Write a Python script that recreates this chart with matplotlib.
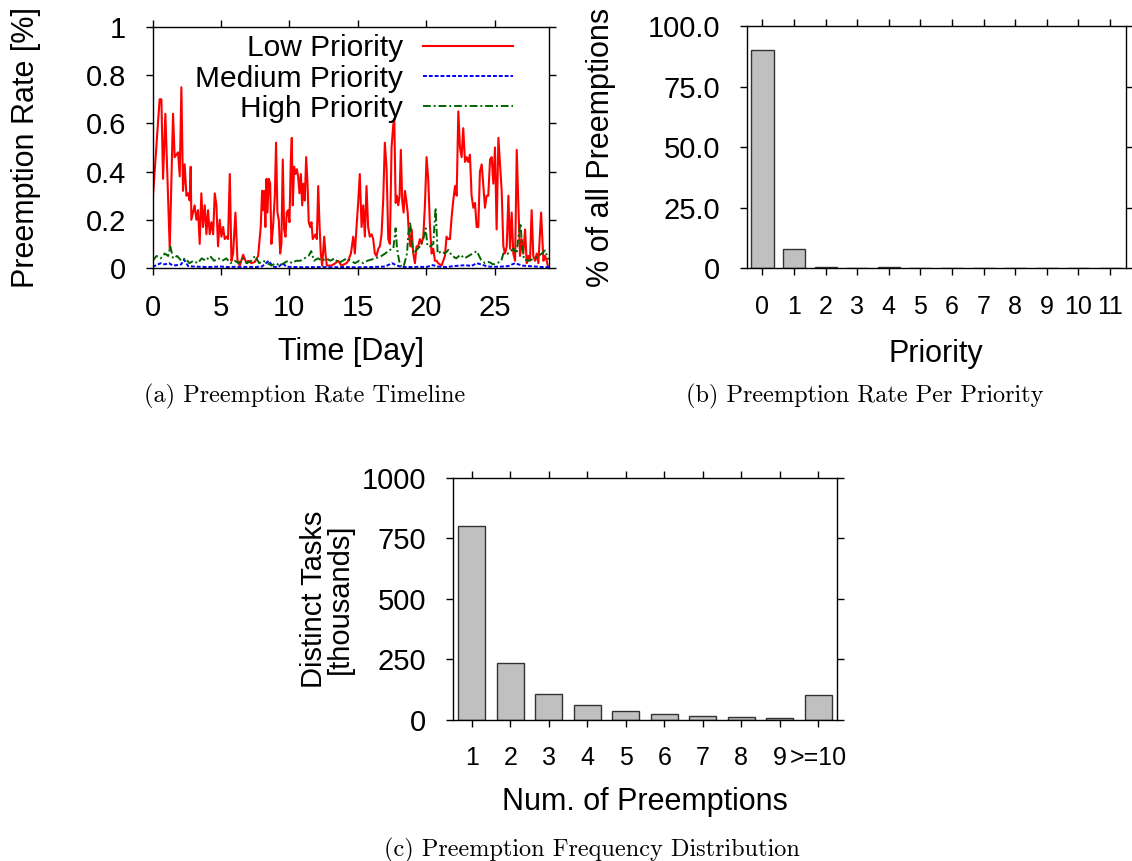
import numpy as np
import matplotlib
matplotlib.use("Agg")
import matplotlib.pyplot as plt

plt.rcParams['font.family'] = ['Liberation Sans', 'DejaVu Sans']

#%% timeline data (day, preemption rate in %)
low_day = [0.0, 0.52, 0.65, 0.77, 0.94, 1.26, 1.50, 1.62, 1.87, 1.99, 2.11, 2.23, 2.35, 2.48,
           2.60, 2.72, 2.79, 2.84, 3.08, 3.21, 3.33, 3.45, 3.57, 3.69, 3.82, 3.94, 4.06, 4.18,
           4.30, 4.43, 4.55, 4.67, 4.79, 4.91, 5.04, 5.16, 5.28, 5.40, 5.52, 5.65, 5.77, 5.89,
           6.06, 6.21, 6.38, 6.62, 6.87, 6.99, 7.23, 7.47, 7.72, 7.91, 8.01, 8.08, 8.16, 8.25,
           8.33, 8.40, 8.50, 8.60, 8.69, 8.81, 8.94, 9.03, 9.13, 9.23, 9.33, 9.42, 9.52, 9.62,
           9.72, 9.81, 9.91, 10.01, 10.11, 10.18, 10.25, 10.35, 10.45, 10.55, 10.64, 10.74,
           10.84, 10.94, 11.03, 11.13, 11.23, 11.33, 11.42, 11.52, 11.62, 11.71, 11.81, 11.91,
           12.01, 12.11, 12.20, 12.30, 12.40, 12.55, 12.64, 12.74, 13.08, 13.37, 13.57, 13.81,
           14.18, 14.30, 14.50, 14.67, 14.79, 14.91, 15.03, 15.15, 15.28, 15.40, 15.52, 15.64,
           15.76, 15.88, 16.01, 16.13, 16.25, 16.37, 16.50, 16.62, 16.74, 16.86, 16.98, 17.11,
           17.23, 17.35, 17.47, 17.59, 17.67, 17.77, 17.86, 17.96, 18.06, 18.15, 18.25, 18.35,
           18.45, 18.55, 18.65, 18.74, 18.84, 18.94, 19.06, 19.18, 19.30, 19.42, 19.54, 19.67,
           19.79, 19.91, 20.03, 20.15, 20.28, 20.40, 20.52, 20.64, 20.76, 20.88, 21.13, 21.37,
           21.49, 21.62, 21.74, 21.86, 21.98, 22.11, 22.23, 22.35, 22.47, 22.59, 22.71, 22.84,
           22.96, 23.08, 23.20, 23.32, 23.45, 23.57, 23.69, 23.81, 23.93, 24.06, 24.18, 24.30,
           24.42, 24.54, 24.67, 24.79, 24.91, 25.03, 25.15, 25.28, 25.40, 25.52, 25.64, 25.76,
           25.89, 26.01, 26.13, 26.25, 26.37, 26.50, 26.62, 26.74, 26.86, 26.98, 27.10, 27.23,
           27.35, 27.47, 27.59, 27.71, 27.83, 27.96, 28.08, 28.20, 28.40, 28.57, 28.69, 28.81,
           28.93]
low_rate = [0.27, 0.70, 0.70, 0.37, 0.64, 0.08, 0.64, 0.46, 0.48, 0.38, 0.75, 0.32, 0.43, 0.30,
            0.31, 0.28, 0.42, 0.20, 0.26, 0.20, 0.24, 0.10, 0.31, 0.17, 0.26, 0.14, 0.24, 0.14,
            0.19, 0.14, 0.31, 0.26, 0.09, 0.20, 0.13, 0.17, 0.12, 0.13, 0.12, 0.39, 0.03, 0.06,
            0.23, 0.03, 0.01, 0.055, 0.02, 0.03, 0.02, 0.025, 0.05, 0.17, 0.32, 0.24, 0.32, 0.17,
            0.37, 0.23, 0.37, 0.35, 0.10, 0.17, 0.30, 0.52, 0.23, 0.20, 0.06, 0.10, 0.45, 0.16,
            0.13, 0.23, 0.24, 0.19, 0.45, 0.54, 0.26, 0.42, 0.39, 0.41, 0.38, 0.31,
            0.39, 0.26, 0.35, 0.28, 0.46, 0.35, 0.19, 0.17, 0.19, 0.12, 0.13, 0.14,
            0.12, 0.34, 0.19, 0.06, 0.01, 0.13, 0.06, 0.01, 0.01, 0.02, 0.03, 0.01,
            0.02, 0.03, 0.06, 0.13, 0.06, 0.17, 0.27, 0.39, 0.17, 0.26, 0.13, 0.34,
            0.17, 0.13, 0.14, 0.12, 0.06, 0.05, 0.08, 0.09, 0.14, 0.28, 0.52, 0.41,
            0.12, 0.10, 0.50, 0.59, 0.62, 0.27, 0.30, 0.26, 0.30, 0.49, 0.28, 0.23,
            0.32, 0.28, 0.23, 0.14, 0.09, 0.16, 0.06, 0.02, 0.09, 0.09, 0.12, 0.10,
            0.13, 0.26, 0.46, 0.37, 0.17, 0.06, 0.08, 0.03, 0.03, 0.02, 0.01, 0.05,
            0.13, 0.12, 0.12, 0.21, 0.28, 0.34, 0.30, 0.65, 0.50, 0.46, 0.58, 0.44,
            0.46, 0.44, 0.47, 0.30, 0.25, 0.27, 0.17, 0.17, 0.40, 0.43, 0.34, 0.25,
            0.30, 0.30, 0.45, 0.46, 0.35, 0.50, 0.16, 0.54, 0.43, 0.32, 0.09, 0.06,
            0.09, 0.30, 0.08, 0.23, 0.06, 0.03, 0.49, 0.26, 0.05, 0.12, 0.06, 0.16,
            0.02, 0.05, 0.03, 0.24, 0.05, 0.03, 0.06, 0.02, 0.23, 0.03, 0.05, 0.03,
            0.0]

med_day = [0.0, 0.3, 0.6, 0.9, 1.2, 1.5, 1.8, 2.1, 2.3, 2.6, 3.0, 3.5, 4.0, 4.5, 5.0, 5.5,
           6.0, 6.5, 7.0, 7.5, 8.0, 8.5, 8.8, 9.2, 9.5, 9.8, 10.5, 11.0, 12.0, 13.0, 14.0,
           15.0, 16.0, 17.0, 17.5, 17.8, 18.2, 19.0, 19.5, 20.0, 20.5, 20.8, 21.5, 22.0,
           22.5, 22.9, 23.3, 23.7, 24.0, 24.5, 25.0, 25.5, 26.0, 26.5, 27.0, 27.5, 28.0,
           28.5, 29.0]
med_rate = [0.005, 0.012, 0.02, 0.015, 0.02, 0.01, 0.012, 0.015, 0.035, 0.008, 0.006, 0.005,
            0.004, 0.005, 0.006, 0.004, 0.005, 0.004, 0.005, 0.004, 0.006, 0.03, 0.005,
            0.004, 0.02, 0.005, 0.004, 0.003, 0.004, 0.003, 0.004, 0.003, 0.004, 0.006,
            0.02, 0.012, 0.004, 0.004, 0.005, 0.004, 0.012, 0.006, 0.004, 0.008, 0.01,
            0.012, 0.008, 0.02, 0.015, 0.006, 0.005, 0.006, 0.008, 0.02, 0.01, 0.008,
            0.006, 0.004, 0.004]

high_day = [0.0, 0.3, 0.6, 0.9, 1.15, 1.3, 1.5, 1.8, 2.1, 2.4,
            2.7, 3.0, 3.3, 3.6, 3.9, 4.2, 4.5, 4.8, 5.1, 5.4,
            5.7, 6.0, 6.3, 6.6, 6.9, 7.2, 7.5, 7.8, 8.1, 8.4,
            8.7, 9.0, 9.3, 9.6, 9.9, 10.2, 10.5, 10.8, 11.1, 11.4,
            11.6, 11.8, 12.1, 12.4, 12.7, 13.0, 13.3, 13.6, 13.9, 14.2,
            14.5, 14.8, 15.1, 15.4, 15.7, 16.0, 16.3, 16.74, 17.0, 17.35,
            17.6, 17.77, 17.86, 17.96, 18.1, 18.35, 18.6, 18.7, 18.84, 18.94,
            19.06, 19.3, 19.55, 19.79, 19.96, 20.1, 20.28, 20.52, 20.69, 20.84,
            21.13, 21.37, 21.62, 21.9, 22.2, 22.5, 22.8, 23.1, 23.4, 23.7,
            24.0, 24.3, 24.6, 24.9, 25.2, 25.5, 25.64, 26.0, 26.37, 26.62,
            26.74, 26.9, 27.0, 27.15, 27.47, 27.96, 28.2, 28.45, 28.69, 28.93]
high_rate = [0.03, 0.05, 0.04, 0.06, 0.05, 0.09, 0.04, 0.05, 0.03, 0.04,
             0.02, 0.03, 0.02, 0.04, 0.03, 0.05, 0.03, 0.04, 0.03, 0.04,
             0.02, 0.03, 0.02, 0.04, 0.02, 0.03, 0.05, 0.02, 0.03, 0.02,
             0.01, 0.02, 0.01, 0.02, 0.03, 0.02, 0.03, 0.03, 0.04, 0.05,
             0.07, 0.03, 0.04, 0.03, 0.04, 0.03, 0.04, 0.02, 0.03, 0.04,
             0.03, 0.02, 0.03, 0.02, 0.03, 0.035, 0.04, 0.05, 0.06, 0.075,
             0.08, 0.165, 0.09, 0.05, 0.01, 0.005, 0.06, 0.145, 0.19, 0.11,
             0.06, 0.075, 0.09, 0.12, 0.165, 0.09, 0.09, 0.10, 0.25, 0.06,
             0.07, 0.06, 0.075, 0.05, 0.04, 0.055, 0.04, 0.05, 0.06, 0.07,
             0.035, 0.02, 0.025, 0.015, 0.02, 0.03, 0.06, 0.06, 0.08, 0.06,
             0.13, 0.186, 0.09, 0.035, 0.03, 0.04, 0.05, 0.06, 0.073, 0.035]

#%% share of all preemptions per priority [%]
priorities = list(range(12))
prio_share = [90.0, 7.8, 0.7, 0.1, 0.5, 0.05, 0.05, 0.05, 0.15, 0.25, 0.05, 0.05]

#%% distinct tasks (thousands) by number of preemptions
preempt_labels = ['1', '2', '3', '4', '5', '6', '7', '8', '9', '>=10']
task_counts = [802, 234, 109, 60, 37, 23, 16, 11, 9.5, 104]

#%%
W, H = 1132, 861
FS = 21       # tick labels
LFS = 22      # axis labels
fig = plt.figure(figsize=(W / 100, H / 100), dpi=100)


def px_axes(left, right, top, bottom):
    return fig.add_axes([left / W, 1 - bottom / H, (right - left) / W, (bottom - top) / H])


def style(ax, xsize=FS):
    for s in ax.spines.values():
        s.set_linewidth(1.0)
    ax.tick_params(direction='out', length=5, width=1, top=True, right=True,
                   labelsize=FS, labeltop=False, labelright=False, pad=14)
    ax.tick_params(axis='x', labelsize=xsize)


# (a) timeline
ax1 = px_axes(152.5, 549.3, 27, 268)
ax1.plot(low_day, low_rate, color='red', lw=1.5, label='Low Priority')
ax1.plot(med_day, med_rate, color='blue', lw=1.4, linestyle=(0, (2, 1)), label='Medium Priority')
ax1.plot(high_day, high_rate, color='darkgreen', lw=1.4, linestyle=(0, (4, 1.5, 1, 1.5)),
         label='High Priority')
ax1.set_xlim(0, 29)
ax1.set_ylim(0, 1)
ax1.set_xticks([0, 5, 10, 15, 20, 25])
ax1.set_yticks([0, 0.2, 0.4, 0.6, 0.8, 1])
ax1.set_yticklabels(['0', '0.2', '0.4', '0.6', '0.8', '1'])
style(ax1)
ax1.set_xlabel('Time [Day]', fontsize=LFS, va='center')
ax1.xaxis.set_label_coords(0.5, -0.348)
ax1.set_ylabel('Preemption Rate [%]', fontsize=LFS, va='center')
ax1.yaxis.set_label_coords(-0.319, 0.5)
ax1.legend(loc='upper right', bbox_to_anchor=((513 - 152.5) / 396.8, 0.969), frameon=False,
           fontsize=21.5, markerfirst=False, handlelength=3.0, handletextpad=0.68,
           labelspacing=0.07, borderpad=0, borderaxespad=0)

# (b) per priority
ax2 = px_axes(746.7, 1125.7, 26, 268.3)
ax2.bar(priorities, prio_share, width=0.7, color='#c0c0c0', edgecolor='#333333', lw=1)
ax2.set_xlim(-0.5, 11.5)
ax2.set_ylim(0, 100)
ax2.set_xticks(priorities)
ax2.set_xticklabels([str(p) for p in priorities])
ax2.set_yticks([0, 25, 50, 75, 100])
ax2.set_yticklabels(['0', '25.0', '50.0', '75.0', '100.0'])
style(ax2, xsize=18)
ax2.set_xlabel('Priority', fontsize=LFS, va='center')
ax2.xaxis.set_label_coords(0.5, -0.354)
ax2.set_ylabel('% of all Preemptions', fontsize=LFS, va='center')
ax2.yaxis.set_label_coords(-0.384, 0.5)

# (c) frequency distribution
ax3 = px_axes(452.7, 837.3, 477.7, 720)
pos = np.arange(1, len(task_counts) + 1)
ax3.bar(pos, task_counts, width=0.7, color='#c0c0c0', edgecolor='#333333', lw=1)
ax3.set_xlim(0.5, 10.5)
ax3.set_ylim(0, 1000)
ax3.set_xticks(pos)
ax3.set_xticklabels(preempt_labels)
ax3.set_yticks([0, 250, 500, 750, 1000])
style(ax3, xsize=18)
ax3.set_xlabel('Num. of Preemptions', fontsize=LFS, va='center')
ax3.xaxis.set_label_coords(0.5, -0.339)
ax3.set_ylabel('Distinct Tasks\n[thousands]', fontsize=21, va='center', linespacing=0.9)
ax3.yaxis.set_label_coords(-0.327, 0.5)

# captions
cap = dict(fontsize=17.5, family='cmr10', ha='center', va='center')
fig.text(305 / W, 1 - 396 / H, '(a) Preemption Rate Timeline', **cap)
fig.text(865 / W, 1 - 396 / H, '(b) Preemption Rate Per Priority', **cap)
fig.text(592 / W, 1 - 850 / H, '(c) Preemption Frequency Distribution', **cap)

fig.savefig('out.png', dpi=100)
